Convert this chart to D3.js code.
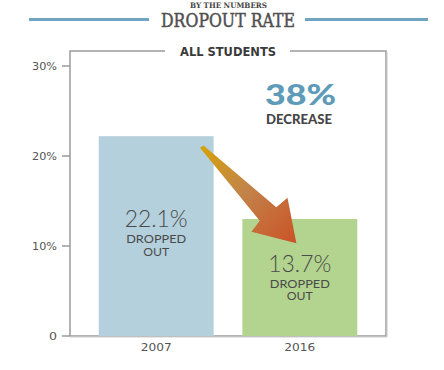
<!DOCTYPE html>
<html>
<head>
<meta charset="utf-8">
<script src="https://cdn.jsdelivr.net/npm/d3@7"></script>
<style>
  html, body { margin: 0; padding: 0; background: #fff; }
  svg { display: block; }
</style>
</head>
<body>
<svg id="chart" width="444" height="370"></svg>
<script>
// ---- data ----
const years = ["2007", "2016"];
const barValues = [22.2, 13.0];          // bar heights as drawn (%)
const valueLabels = ["22.1%", "13.7%"];  // printed values
const subLabel = ["DROPPED", "OUT"];
const yTicks = [0, 10, 20, 30];
const yTickLabels = ["0", "10%", "20%", "30%"];
const barColors = ["#b4d0dc", "#b3d48f"];

(function () {
const svg = d3.select("#chart");
const pLeft = 70, pRight = 386, pTop = 51, pBottom = 336;

const x = d3.scaleBand().domain(years).range([pLeft, pRight]).paddingInner(0.2).paddingOuter(0.2);
const y = d3.scaleLinear().domain([0, 30]).range([pBottom, pBottom - 270]);

const defs = svg.append("defs");
const grad = defs.append("linearGradient").attr("id", "arrowGrad")
  .attr("gradientUnits", "userSpaceOnUse");

// ---- header ----
svg.append("text").attr("x", 228.5).attr("y", 7.8)
  .attr("text-anchor", "middle")
  .attr("font-family", "DejaVu Serif").attr("font-weight", "bold")
  .attr("font-size", 7.5).attr("fill", "#444")
  .attr("textLength", 77).attr("lengthAdjust", "spacingAndGlyphs")
  .text("BY THE NUMBERS");

svg.append("text").attr("x", 228).attr("y", 27)
  .attr("text-anchor", "middle")
  .attr("font-family", "DejaVu Serif").attr("font-weight", "normal")
  .attr("font-size", 18.5).attr("fill", "#505050")
  .attr("stroke", "#505050").attr("stroke-width", 0.5)
  .attr("textLength", 134).attr("lengthAdjust", "spacingAndGlyphs")
  .text("DROPOUT RATE");

svg.append("line").attr("x1", 29).attr("x2", 149).attr("y1", 19.5).attr("y2", 19.5)
  .attr("stroke", "#6fa4c3").attr("stroke-width", 3);
svg.append("line").attr("x1", 305).attr("x2", 428).attr("y1", 19.5).attr("y2", 19.5)
  .attr("stroke", "#6fa4c3").attr("stroke-width", 3);

// ---- frame ----
const frameColor = "#9a9a9a";
svg.append("path")
  .attr("d", `M165,${pTop}H${pLeft}V${pBottom}`)
  .attr("fill", "none").attr("stroke", frameColor).attr("stroke-width", 1.5);
svg.append("path")
  .attr("d", `M290,${pTop}H${pRight}V${pBottom}H${pLeft}`)
  .attr("fill", "none").attr("stroke", frameColor).attr("stroke-width", 1.5);
svg.append("line").attr("x1", pRight + 1.2).attr("x2", pRight + 1.2).attr("y1", pTop + 1).attr("y2", pBottom + 1)
  .attr("stroke", "#d6d6d6").attr("stroke-width", 1);
svg.append("line").attr("x1", pLeft).attr("x2", pRight + 1.2).attr("y1", pBottom + 1.2).attr("y2", pBottom + 1.2)
  .attr("stroke", "#dcdcdc").attr("stroke-width", 1);

svg.append("text").attr("x", 228).attr("y", 55.5)
  .attr("text-anchor", "middle")
  .attr("font-family", "DejaVu Sans").attr("font-weight", "bold")
  .attr("font-size", 11.5).attr("fill", "#3a3a3a")
  .attr("textLength", 96).attr("lengthAdjust", "spacingAndGlyphs")
  .text("ALL STUDENTS");

// ---- y axis ticks ----
const yAxis = svg.append("g");
yAxis.selectAll("line").data(yTicks).join("line")
  .attr("x1", pLeft - 8).attr("x2", pLeft)
  .attr("y1", d => y(d)).attr("y2", d => y(d))
  .attr("stroke", frameColor).attr("stroke-width", 1.5);
yAxis.selectAll("text").data(yTicks).join("text")
  .attr("x", pLeft - 13).attr("y", d => y(d) + 4)
  .attr("text-anchor", "end")
  .attr("font-family", "DejaVu Sans").attr("font-size", 10.5)
  .attr("fill", "#555")
  .attr("textLength", (d, i) => yTickLabels[i].length === 1 ? 8 : 25)
  .attr("lengthAdjust", "spacingAndGlyphs")
  .text((d, i) => yTickLabels[i]);

// ---- bars ----
svg.selectAll("rect.bar").data(years).join("rect")
  .attr("class", "bar")
  .attr("x", d => x(d)).attr("width", x.bandwidth())
  .attr("y", (d, i) => y(barValues[i]))
  .attr("height", (d, i) => y(0) - y(barValues[i]))
  .attr("fill", (d, i) => barColors[i]);

// ---- x labels ----
svg.selectAll("text.xl").data(years).join("text")
  .attr("class", "xl")
  .attr("x", d => x(d) + x.bandwidth() / 2).attr("y", 351)
  .attr("text-anchor", "middle")
  .attr("font-family", "DejaVu Sans").attr("font-size", 10.5)
  .attr("fill", "#555")
  .attr("textLength", 31).attr("lengthAdjust", "spacingAndGlyphs")
  .text(d => d);

// ---- in-bar labels ----
const labelY = [[227, 243, 255.5], [272, 287.5, 300]];
years.forEach((yr, i) => {
  const cx = x(yr) + x.bandwidth() / 2;
  svg.append("text").attr("x", cx).attr("y", labelY[i][0])
    .attr("text-anchor", "middle")
    .attr("font-family", "Lato, 'Open Sans', sans-serif").attr("font-weight", 300)
    .attr("font-size", 24).attr("fill", "#4a4a4a")
    .attr("textLength", 63).attr("lengthAdjust", "spacingAndGlyphs")
    .text(valueLabels[i]);
  subLabel.forEach((s, j) => {
    svg.append("text").attr("x", cx).attr("y", labelY[i][j + 1])
      .attr("text-anchor", "middle")
      .attr("font-family", "Lato, 'Open Sans', sans-serif").attr("font-weight", 400)
      .attr("font-size", 11.5).attr("fill", "#4a4a4a")
      .attr("textLength", j === 0 ? 60 : 26).attr("lengthAdjust", "spacingAndGlyphs")
      .text(s);
  });
});

// ---- annotation: 38% DECREASE ----
svg.append("text").attr("x", 300.5).attr("y", 105)
  .attr("text-anchor", "middle")
  .attr("font-family", "Lato, 'DejaVu Sans', sans-serif").attr("font-weight", 900)
  .attr("font-size", 28).attr("fill", "#5d9bb8")
  .attr("textLength", 71).attr("lengthAdjust", "spacingAndGlyphs")
  .text("38%");
svg.append("text").attr("x", 299).attr("y", 123.5)
  .attr("text-anchor", "middle")
  .attr("font-family", "Lato, 'DejaVu Sans', sans-serif").attr("font-weight", 900)
  .attr("font-size", 13).attr("fill", "#454545")
  .attr("textLength", 66).attr("lengthAdjust", "spacingAndGlyphs")
  .text("DECREASE");

// ---- arrow ----
const x0 = x(years[0]) + x.bandwidth() * 0.9, y0 = y(21);
const x1 = x(years[1]) + x.bandwidth() * 0.47, y1 = y(10.3);
const dx = x1 - x0, dy = y1 - y0, L = Math.hypot(dx, dy);
const ux = dx / L, uy = dy / L, nx = uy, ny = -ux;
const P = (a, p) => [x0 + ux * a + nx * p, y0 + uy * a + ny * p];
const pts = [P(-1, -2), P(0, 2), P(95, 10.8), P(96, 25.5), P(L, 0), P(95, -24), P(93, -10.4), P(0, -2.2)];
grad.attr("x1", x0).attr("y1", y0).attr("x2", x1).attr("y2", y1);
grad.append("stop").attr("offset", "0%").attr("stop-color", "#d6a10c");
grad.append("stop").attr("offset", "45%").attr("stop-color", "#c2844a");
grad.append("stop").attr("offset", "100%").attr("stop-color", "#cb5226");
svg.append("path")
  .attr("d", d3.line().curve(d3.curveLinearClosed)(pts))
  .attr("fill", "url(#arrowGrad)");
})();
</script>
</body>
</html>
